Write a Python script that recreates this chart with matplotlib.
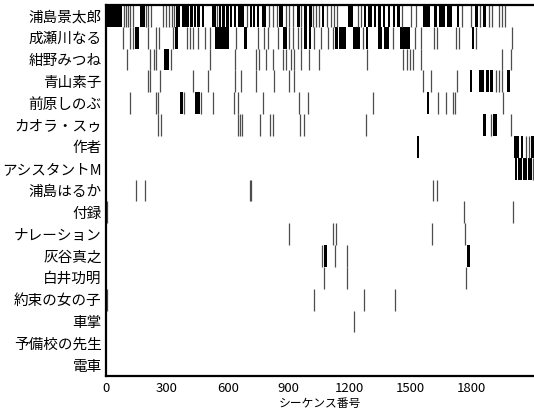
import matplotlib
matplotlib.use("Agg")
import matplotlib.pyplot as plt

plt.rcParams['font.family'] = ['Noto Sans CJK JP', 'DejaVu Sans']

# characters (top to bottom)
characters = ["浦島景太郎", "成瀬川なる", "紺野みつね", "青山素子", "前原しのぶ",
              "カオラ・スゥ", "作者", "アシスタントM", "浦島はるか", "付録",
              "ナレーション", "灰谷真之", "白井功明", "約束の女の子", "車掌",
              "予備校の先生", "電車"]

n_seq = 2110  # number of sequences

# appearance ranges [start, end] in sequence numbers, one list per character
keitaro = [[0, 80], [85, 91], [96, 99], [104, 111], [117, 124], [129, 137], [167, 190],
           [194, 203], [206, 211], [219, 227], [277, 285], [293, 301], [309, 317],
           [321, 329], [333, 342], [347, 367], [375, 392], [396, 411], [416, 428],
           [434, 445], [450, 465], [473, 484], [523, 540], [544, 550], [556, 567],
           [572, 589], [593, 604], [610, 620], [630, 642], [651, 682], [691, 699],
           [710, 720], [726, 736], [744, 755], [769, 788], [801, 809], [818, 827],
           [839, 847], [851, 875], [884, 892], [900, 908], [916, 925], [941, 954],
           [958, 966], [974, 991], [999, 1015], [1020, 1023], [1032, 1040],
           [1048, 1056], [1064, 1076], [1086, 1090], [1106, 1110], [1122, 1130],
           [1138, 1142], [1191, 1217], [1237, 1243], [1253, 1257], [1270, 1283],
           [1294, 1310], [1319, 1332], [1343, 1357], [1365, 1376], [1388, 1398],
           [1414, 1425], [1434, 1447], [1458, 1462], [1500, 1504], [1524, 1532],
           [1565, 1598], [1617, 1631], [1640, 1672], [1680, 1704], [1729, 1742],
           [1754, 1757], [1795, 1799], [1819, 1836], [1844, 1847], [1860, 1873],
           [1885, 1889], [1901, 1906], [1934, 1938], [1950, 1959], [1964, 1972]]
naru = [[80, 83], [112, 121], [129, 137], [142, 162], [203, 207], [244, 250],
        [260, 265], [326, 331], [342, 354], [396, 403], [408, 416], [424, 432],
        [449, 457], [482, 490], [506, 515], [539, 605], [638, 646], [679, 695],
        [744, 752], [777, 785], [793, 802], [843, 851], [875, 892], [900, 908],
        [916, 925], [941, 949], [958, 966], [977, 990], [999, 1010], [1023, 1032],
        [1056, 1064], [1089, 1097], [1114, 1122], [1130, 1142], [1151, 1184],
        [1220, 1253], [1261, 1270], [1283, 1294], [1343, 1360], [1371, 1393],
        [1409, 1417], [1450, 1499], [1519, 1526], [1549, 1557], [1614, 1622],
        [1627, 1634], [1721, 1729], [1734, 1742], [1803, 1814], [1819, 1828],
        [2000, 2005]]
mitsune = [[101, 108], [216, 222], [232, 239], [244, 249], [285, 310], [318, 323],
           [506, 515], [630, 638], [736, 744], [752, 761], [785, 794], [818, 826],
           [867, 875], [884, 892], [908, 916], [925, 933], [958, 966], [999, 1007],
           [1048, 1056], [1283, 1288], [1463, 1470], [1480, 1486], [1496, 1503],
           [1512, 1519], [1549, 1557], [1951, 1956], [1995, 2000]]
motoko = [[203, 211], [216, 222], [265, 272], [424, 429], [498, 506], [630, 638],
          [662, 670], [736, 744], [826, 834], [900, 908], [925, 933], [1557, 1565],
          [1598, 1606], [1726, 1732], [1795, 1805], [1841, 1864], [1873, 1890],
          [1893, 1910], [1918, 1926], [1934, 1942], [1946, 1955], [1975, 1992]]
shinobu = [[117, 124], [244, 252], [255, 262], [367, 380], [383, 388], [441, 465],
           [468, 473], [523, 528], [626, 633], [646, 654], [769, 777], [949, 958],
           [990, 999], [1311, 1319], [1581, 1591], [1631, 1639], [1672, 1680],
           [1704, 1713], [1716, 1724], [1956, 1962]]
kaolla = [[255, 262], [268, 277], [646, 654], [659, 665], [670, 675], [757, 764],
          [807, 813], [820, 826], [954, 961], [974, 982], [1278, 1283], [1860, 1872],
          [1893, 1901], [1910, 1930], [1992, 1997]]
author = [[1532, 1545], [2011, 2024], [2027, 2037], [2044, 2057], [2065, 2074],
          [2082, 2090], [2094, 2110]]
assistant = [[2016, 2027], [2032, 2049], [2057, 2077], [2082, 2098], [2103, 2110]]
haruka = [[145, 150], [190, 196], [708, 711], [714, 717], [1608, 1614], [1627, 1634]]
appendix = [[0, 6], [1762, 1767], [2005, 2011]]
narration = [[897, 905], [1118, 1124], [1131, 1138], [1603, 1609], [1767, 1774]]
haitani = [[1061, 1068], [1076, 1089], [1127, 1133], [1184, 1189], [1778, 1794]]
shirai = [[1071, 1077], [1186, 1192], [1772, 1781]]
promise_girl = [[0, 9], [1023, 1031], [1268, 1273], [1420, 1427]]
conductor = [[1220, 1227]]
prep_teacher = []
train = []

appearances = [keitaro, naru, mitsune, motoko, shinobu, kaolla, author, assistant,
               haruka, appendix, narration, haitani, shirai, promise_girl, conductor,
               prep_teacher, train]

fig = plt.figure(figsize=(5.34, 4.15), dpi=100)
ax = fig.add_axes([0.1985, 0.094, 0.8015, 0.894])

# one barcode row per character: long runs as black blocks,
# short ones as thin grey lines
for i, ranges in enumerate(appearances):
    long_spans = [(s, e - s) for s, e in ranges if e - s > 9]
    short_x = [(s + e) / 2 for s, e in ranges if e - s <= 9]
    if long_spans:
        ax.broken_barh(long_spans, (i - 0.5, 1.0), facecolors='black', linewidth=0)
    if short_x:
        ax.vlines(short_x, i - 0.5, i + 0.5, colors='0.3', linewidth=0.9)

ax.set_xlim(0, n_seq)
ax.set_ylim(len(characters) - 0.5, -0.5)
ax.set_yticks(range(len(characters)))
ax.set_yticklabels(characters, fontsize=10.5)
ax.set_xticks([0, 300, 600, 900, 1200, 1500, 1800])
ax.tick_params(axis='x', labelsize=9.5, length=0, pad=4)
ax.tick_params(axis='y', length=0, pad=3)
ax.set_xlabel("シーケンス番号", fontsize=8.5, labelpad=2)

for side in ['top', 'bottom', 'left']:
    ax.spines[side].set_linewidth(1.6)
ax.spines['right'].set_visible(False)

fig.savefig("out.png", dpi=100)
